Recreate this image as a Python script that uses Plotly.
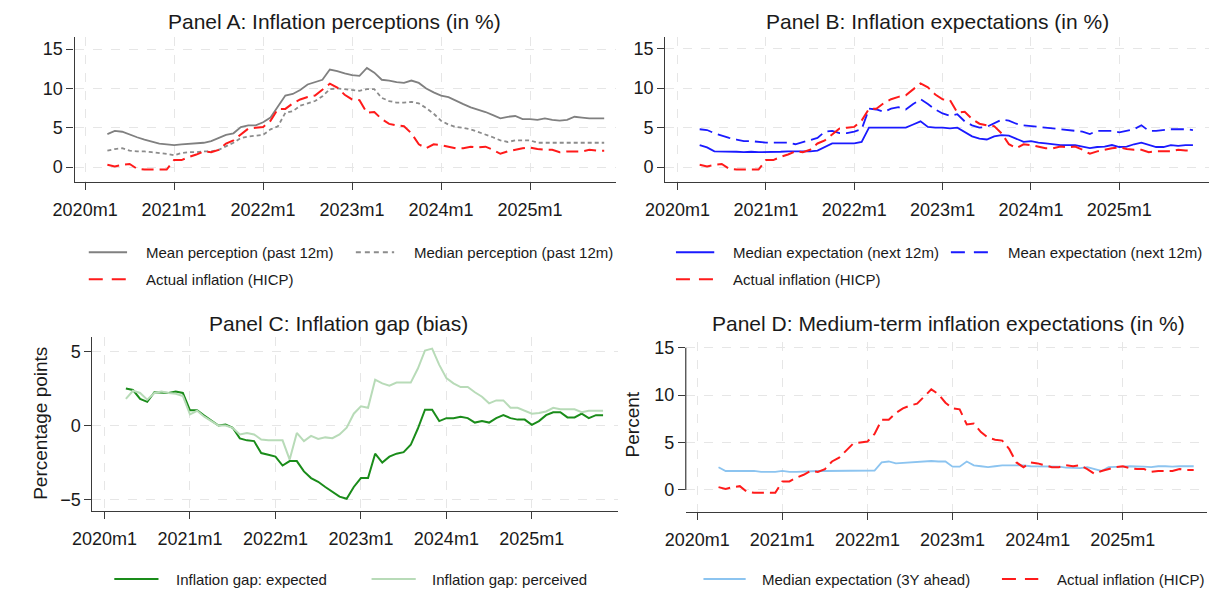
import plotly.graph_objects as go
import pandas as pd

# ---------------- data ----------------
periods = pd.period_range("2020-04", "2025-11", freq="M")
month_index = [(p.year - 2020) * 12 + (p.month - 1) for p in periods]

tick_vals = [0, 12, 24, 36, 48, 60]
tick_text = ["2020m1", "2021m1", "2022m1", "2023m1", "2024m1", "2025m1"]

hicp = [0.3, 0.1, 0.3, 0.4, -0.2, -0.3, -0.3, -0.3, -0.3,
        0.9, 0.9, 1.3, 1.6, 2.0, 1.9, 2.2, 3.0, 3.4, 4.1, 4.9, 5.0,
        5.1, 5.9, 7.4, 7.4, 8.1, 8.6, 8.9, 9.1, 9.9, 10.6, 10.1, 9.2,
        8.6, 8.5, 6.9, 7.0, 6.1, 5.5, 5.3, 5.2, 4.3, 2.9, 2.4, 2.9,
        2.8, 2.6, 2.4, 2.4, 2.6, 2.5, 2.6, 2.2, 1.7, 2.0, 2.2, 2.4,
        2.5, 2.3, 2.2, 2.2, 1.9, 2.0, 2.0, 2.0, 2.2, 2.1, 2.1]

mean_perception = [4.2, 4.6, 4.5, 4.1, 3.8, 3.5, 3.2, 3.0, 2.9, 2.8,
                   2.9, 2.95, 3.0, 3.1, 3.3, 3.7, 4.1, 4.3, 5.1, 5.3,
                   5.3, 5.7, 6.3, 7.7, 9.1, 9.3, 9.8, 10.5, 10.8, 11.1,
                   12.4, 12.2, 11.9, 11.7, 11.6, 12.6, 12.0, 11.1, 11.0, 10.8,
                   10.7, 11.0, 10.7, 10.0, 9.5, 9.1, 8.9, 8.4, 8.0, 7.6,
                   7.3, 7.0, 6.6, 6.2, 6.4, 6.5, 6.1, 6.1, 6.0, 6.2,
                   6.0, 5.9, 6.0, 6.4, 6.3, 6.2, 6.2, 6.2]

median_perception = [2.1, 2.3, 2.4, 2.1, 2.0, 2.0, 1.9, 1.8, 1.7, 1.5,
                     1.8, 1.9, 1.9, 2.0, 2.0, 2.2, 2.6, 3.1, 3.7, 3.9,
                     4.0, 4.1, 4.8, 5.2, 6.9, 7.1, 7.8, 8.1, 8.4, 9.0,
                     9.9, 10.0, 9.9, 9.8, 9.7, 9.9, 9.9, 8.8, 8.4, 8.2,
                     8.2, 8.3, 8.1, 7.5, 6.8, 5.9, 5.4, 5.1, 5.0, 4.8,
                     4.5, 4.1, 3.8, 3.4, 3.2, 3.4, 3.4, 3.4, 3.1, 3.1,
                     3.1, 3.1, 3.1, 3.1, 3.1, 3.1, 3.1, 3.1]

median_expectation = [2.8, 2.5, 2.0, 2.0, 1.95, 1.95, 1.9, 1.95, 1.9, 1.9,
                      1.9, 1.95, 2.0, 2.0, 2.0, 2.0, 2.1, 2.5, 3.0, 3.0,
                      3.0, 3.0, 3.2, 5.0, 5.0, 5.0, 5.0, 5.0, 5.0, 5.4,
                      5.8, 5.1, 5.0, 5.0, 4.9, 5.0, 4.5, 3.9, 3.6, 3.5,
                      3.9, 4.05, 4.0, 3.6, 3.2, 3.3, 3.1, 3.0, 2.9, 2.8,
                      2.8, 2.8, 2.6, 2.4, 2.55, 2.6, 2.8, 2.55, 2.6, 2.9,
                      3.1, 2.8, 2.55, 2.55, 2.8, 2.7, 2.8, 2.8]

mean_expectation = [4.8, 4.7, 4.3, 4.0, 3.7, 3.5, 3.3, 3.3, 3.2, 3.1,
                    3.1, 3.1, 3.1, 2.9, 3.2, 3.5, 3.7, 4.5, 4.6, 4.3,
                    4.3, 4.5, 4.8, 7.4, 7.3, 7.0, 7.4, 7.6, 7.3, 8.0,
                    8.6, 8.0, 7.3, 6.8, 6.5, 6.7, 5.8, 5.3, 5.0, 5.1,
                    5.5, 6.0, 5.9, 5.5, 5.3, 5.2, 5.1, 5.0, 4.9, 4.8,
                    4.7, 4.6, 4.5, 4.2, 4.6, 4.6, 4.6, 4.4, 4.6, 4.8,
                    5.3, 4.6, 4.6, 4.7, 4.8, 4.8, 4.8, 4.7]

gap_expected = [2.5, 2.4, 1.8, 1.6, 2.25, 2.25, 2.2, 2.3, 2.2, 1.03,
                1.03, 0.67, 0.34, 0.0, 0.07, -0.15, -0.87, -1.0, -1.05, -1.86,
                -1.97, -2.1, -2.7, -2.4, -2.4, -3.1, -3.55, -3.8, -4.15, -4.5,
                -4.8, -4.95, -4.15, -3.55, -3.55, -1.9, -2.5, -2.1, -1.9, -1.8,
                -1.3, -0.2, 1.07, 1.07, 0.3, 0.5, 0.5, 0.6, 0.5, 0.2,
                0.3, 0.2, 0.5, 0.7, 0.5, 0.4, 0.4, 0.05, 0.3, 0.7,
                0.9, 0.9, 0.55, 0.55, 0.8, 0.5, 0.7, 0.7]

gap_perceived = [1.8, 2.35, 2.2, 1.75, 2.2, 2.3, 2.2, 2.15, 2.0, 0.75,
                 1.0, 0.6, 0.3, 0.0, 0.0, -0.15, -0.6, -0.5, -0.6, -0.95,
                 -1.0, -1.0, -1.0, -2.3, -0.5, -1.05, -0.7, -0.9, -0.8, -0.85,
                 -0.6, -0.15, 0.8, 1.3, 1.2, 3.1, 2.85, 2.7, 2.9, 2.9,
                 2.9, 3.85, 5.07, 5.2, 4.1, 3.2, 2.85, 2.6, 2.6, 2.25,
                 1.95, 1.5, 1.7, 1.7, 1.2, 1.2, 1.0, 0.8, 0.85, 0.95,
                 1.2, 1.1, 1.1, 1.1, 0.9, 1.0, 1.0, 1.0]

expectation_3y = [2.4, 2.0, 2.0, 2.0, 2.0, 2.0, 1.9, 1.9, 1.9, 2.0,
                  1.9, 1.9, 1.95, 1.95, 2.0, 2.0, 2.0, 2.0, 2.05, 2.05,
                  2.05, 2.05, 2.05, 2.9, 3.0, 2.8, 2.85, 2.95, 3.0, 3.0,
                  3.05, 3.0, 3.0, 2.45, 2.45, 3.0, 2.6, 2.5, 2.4, 2.5,
                  2.6, 2.6, 2.6, 2.6, 2.5, 2.5, 2.5, 2.45, 2.45, 2.35,
                  2.3, 2.3, 2.4, 2.2, 2.0, 2.4, 2.4, 2.45, 2.5, 2.5,
                  2.45, 2.4, 2.5, 2.5, 2.45, 2.5, 2.5, 2.5]

# ---------------- styling ----------------
W, H = 1216, 591
FONT = "Liberation Sans, Arial, Helvetica, sans-serif"
TXT = "#1a1a1a"
AXC = "#3a3a3a"
GRID = "#e6e6e6"

GRAY = "#808080"
GRAY2 = "#8c8c8c"
RED = "#ff1a1a"
BLUE = "#1a1aff"
DKGREEN = "#1a8c1a"
LTGREEN = "#b8dbb8"
LTBLUE = "#8cc4f0"

DASH_RED = "12px,6px"
DASH_DOT = "4px,3px"
DASH_BLUE = "13px,6px"


def fx(p):
    return p / W


def fy(p):
    return 1 - p / H


fig = go.Figure()


def add_line(y, name, color, dash, width, xa, ya):
    fig.add_trace(go.Scatter(
        x=month_index, y=y, name=name, mode="lines",
        line=dict(color=color, dash=dash, width=width),
        xaxis=xa, yaxis=ya, showlegend=False))


# Panel A
add_line(mean_perception, "Mean perception (past 12m)", GRAY, "solid", 1.8, "x", "y")
add_line(median_perception, "Median perception (past 12m)", GRAY2, DASH_DOT, 1.8, "x", "y")
add_line(hicp, "Actual inflation (HICP)", RED, DASH_RED, 2.0, "x", "y")
# Panel B
add_line(median_expectation, "Median expectation (next 12m)", BLUE, "solid", 1.8, "x2", "y2")
add_line(mean_expectation, "Mean expectation (next 12m)", BLUE, DASH_BLUE, 1.8, "x2", "y2")
add_line(hicp, "Actual inflation (HICP)", RED, DASH_RED, 2.0, "x2", "y2")
# Panel C
add_line(gap_expected, "Inflation gap: expected", DKGREEN, "solid", 2.0, "x3", "y3")
add_line(gap_perceived, "Inflation gap: perceived", LTGREEN, "solid", 2.0, "x3", "y3")
# Panel D
add_line(expectation_3y, "Median expectation (3Y ahead)", LTBLUE, "solid", 1.8, "x4", "y4")
add_line(hicp, "Actual inflation (HICP)", RED, DASH_RED, 2.0, "x4", "y4")

axis_common = dict(
    showline=True, linecolor=AXC, linewidth=1.2,
    ticks="outside", ticklen=7, tickwidth=1.2, tickcolor=AXC,
    showgrid=True, gridcolor=GRID, griddash="dash", gridwidth=1.2,
    zeroline=False, tickfont=dict(family=FONT, size=18, color=TXT),
)

xcommon = dict(axis_common, tickvals=tick_vals, ticktext=tick_text,
               ticklabelstandoff=4)

fig.update_layout(
    width=W, height=H,
    margin=dict(l=0, r=0, t=0, b=0),
    paper_bgcolor="white", plot_bgcolor="white",
    font=dict(family=FONT, color=TXT),
    xaxis=dict(xcommon, domain=[fx(53.5), fx(605)], range=[-1.43, 71.6], anchor="y"),
    yaxis=dict(axis_common, domain=[fy(179.5), fy(33)], range=[-1.92, 16.56],
               tickvals=[0, 5, 10, 15], anchor="x"),
    xaxis2=dict(xcommon, domain=[fx(655), fx(1209)], range=[-1.69, 72.2], anchor="y2"),
    yaxis2=dict(axis_common, domain=[fy(179.3), fy(33.3)], range=[-1.89, 16.47],
                tickvals=[0, 5, 10, 15], anchor="x2"),
    xaxis3=dict(xcommon, domain=[fx(71.7), fx(607)], range=[-1.7, 72.1], anchor="y3"),
    yaxis3=dict(axis_common, domain=[fy(510.7), fy(335)], range=[-5.79, 6.0],
                tickvals=[-5, 0, 5], anchor="x3"),
    xaxis4=dict(xcommon, domain=[fx(676), fx(1207)], range=[-1.62, 71.9], anchor="y4"),
    yaxis4=dict(axis_common, domain=[fy(511.7), fy(340)], range=[-2.35, 15.63],
                tickvals=[0, 5, 10, 15], anchor="x4", showline=False),
)

shapes = []
annotations = []

# Panel D y-axis line only spans the tick range
shapes.append(dict(type="line", xref="x4 domain", yref="y4", x0=0, x1=0, y0=0, y1=15,
                   line=dict(color=AXC, width=1.2)))

# titles
titles = [
    ("Panel A: Inflation perceptions (in %)", 318, 18),
    ("Panel B: Inflation expectations (in %)", 932, 18),
    ("Panel C: Inflation gap (bias)", 322, 322),
    ("Panel D: Medium-term inflation expectations (in %)", 944, 322),
]
for t, xp, yp in titles:
    annotations.append(dict(text=t, x=fx(xp), y=fy(yp), xref="paper", yref="paper",
                            xanchor="center", yanchor="middle", showarrow=False,
                            font=dict(family=FONT, size=21, color=TXT)))

# y-axis titles
annotations.append(dict(text="Percentage points", x=fx(18.5), y=fy(422.5), xref="paper",
                        yref="paper", textangle=-90, xanchor="center", yanchor="middle",
                        showarrow=False, font=dict(family=FONT, size=19, color=TXT)))
annotations.append(dict(text="Percent", x=fx(621.5), y=fy(423), xref="paper",
                        yref="paper", textangle=-90, xanchor="center", yanchor="middle",
                        showarrow=False, font=dict(family=FONT, size=19, color=TXT)))

LEG_RED = "14px,9px"
LEG_BLUE = "14px,9px"
# legends (sample line x0, x1, text x, row y, label, color, dash)
legend_items = [
    (68, 107, 124, 250, "Mean perception (past 12m)", GRAY, "solid"),
    (340, 379, 397, 250, "Median perception (past 12m)", GRAY2, "5px,4px"),
    (68, 107, 124, 277, "Actual inflation (HICP)", RED, LEG_RED),
    (666, 705, 722, 250, "Median expectation (next 12m)", BLUE, "solid"),
    (946, 985, 1002, 250, "Mean expectation (next 12m)", BLUE, LEG_BLUE),
    (666, 705, 722, 277, "Actual inflation (HICP)", RED, LEG_RED),
    (94, 139, 155, 579, "Inflation gap: expected", DKGREEN, "solid"),
    (356, 401, 416, 579, "Inflation gap: perceived", LTGREEN, "solid"),
    (694, 737, 752, 579, "Median expectation (3Y ahead)", LTBLUE, "solid"),
    (998, 1035, 1052, 579, "Actual inflation (HICP)", RED, LEG_RED),
]
for x0, x1, xt, yr, label, color, dash in legend_items:
    shapes.append(dict(type="line", xref="paper", yref="paper",
                       x0=fx(x0), x1=fx(x1), y0=fy(yr), y1=fy(yr),
                       line=dict(color=color, width=2, dash=dash)))
    annotations.append(dict(text=label, x=fx(xt), y=fy(yr), xref="paper", yref="paper",
                            xanchor="left", yanchor="middle", showarrow=False,
                            font=dict(family=FONT, size=15, color=TXT)))

fig.update_layout(shapes=shapes, annotations=annotations)

fig.write_html(
    "out.html",
    config={"displayModeBar": False},
    post_script="document.body.style.margin='0';document.body.style.overflow='hidden';",
)
